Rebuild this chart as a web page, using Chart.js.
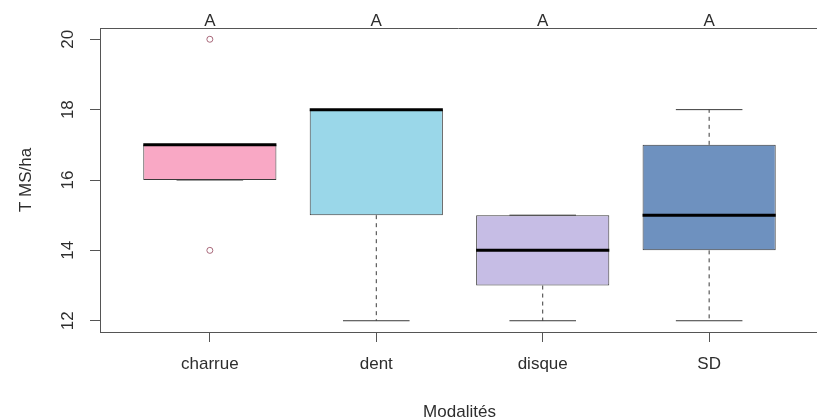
<!DOCTYPE html>
<html>
<head>
<meta charset="utf-8">
<script src="https://cdn.jsdelivr.net/npm/chart.js@4.4.1/dist/chart.umd.min.js"></script>
<style>
  html, body { margin: 0; padding: 0; background: #fff; overflow: hidden; }
  #wrap { width: 817px; height: 420px; }
</style>
</head>
<body>
<div id="wrap"><canvas id="c" width="817" height="420"></canvas></div>
<script>
// ---- data ----
const categories = ['charrue', 'dent', 'disque', 'SD'];
const positions = [1, 2, 3, 4];
const q1 = [16, 15, 13, 14];
const medians = [17, 18, 14, 15];
const q3 = [17, 18, 15, 17];
const whiskerLow = [16, 12, 12, 12];
const whiskerHigh = [17, 18, 15, 18];
const outliers = [[14, 20], [], [], []];
const letters = ['A', 'A', 'A', 'A'];
const yTicks = [12, 14, 16, 18, 20];
const boxColors = ['#F9A8C5', '#9AD7E9', '#C6BDE5', '#6E91BF'];

const BOX_HALF = 0.4;
const CAP_HALF = 0.2;
const FONT = "'Liberation Sans', Arial, sans-serif";
const TEXT = '#2e2e2e';
const AXIS = '#555555';

// segments built from the arrays
function segs(list) {
  const out = [];
  list.forEach(s => { out.push({x: s[0], y: s[1]}, {x: s[2], y: s[3]}, {x: s[2], y: null}); });
  return out;
}
const medianSegs = segs(positions.map((p, i) => [p - BOX_HALF, medians[i], p + BOX_HALF, medians[i]]));
const whiskerSegs = segs(positions.flatMap((p, i) => [
  [p, q1[i], p, whiskerLow[i]],
  [p, q3[i], p, whiskerHigh[i]]
]));
const capSegs = segs(positions.flatMap((p, i) => [
  [p - CAP_HALF, whiskerLow[i], p + CAP_HALF, whiskerLow[i]],
  [p - CAP_HALF, whiskerHigh[i], p + CAP_HALF, whiskerHigh[i]]
]));
const outlierPts = positions.flatMap((p, i) => outliers[i].map(v => ({x: p, y: v})));

const extras = {
  id: 'extras',
  afterDraw(chart) {
    const {ctx, chartArea, scales} = chart;
    const xs = scales.x, ys = scales.y;
    ctx.save();
    // top frame line
    ctx.strokeStyle = AXIS;
    ctx.lineWidth = 1;
    ctx.beginPath();
    ctx.moveTo(chartArea.left, chartArea.top + 0.5);
    ctx.lineTo(chartArea.right, chartArea.top + 0.5);
    ctx.stroke();

    ctx.fillStyle = TEXT;
    ctx.font = '17px ' + FONT;
    // rotated y tick labels
    yTicks.forEach(v => {
      const py = ys.getPixelForValue(v);
      ctx.save();
      ctx.translate(73, py);
      ctx.rotate(-Math.PI / 2);
      ctx.textAlign = 'center';
      ctx.textBaseline = 'alphabetic';
      ctx.fillText(String(v), 0, 0);
      ctx.restore();
    });
    // y title
    ctx.save();
    ctx.translate(31, (chartArea.top + chartArea.bottom) / 2);
    ctx.rotate(-Math.PI / 2);
    ctx.textAlign = 'center';
    ctx.textBaseline = 'alphabetic';
    ctx.fillText('T MS/ha', 0, 0);
    ctx.restore();
    // x title, centred on the plot region
    ctx.textAlign = 'center';
    ctx.textBaseline = 'alphabetic';
    ctx.fillText('Modalités', xs.getPixelForValue(2.5), 417);
    // letters above each box
    letters.forEach((t, i) => {
      ctx.fillText(t, xs.getPixelForValue(positions[i]), 25.5);
    });
    ctx.restore();
  }
};

new Chart(document.getElementById('c'), {
  type: 'bar',
  data: {
    datasets: [
      {
        type: 'bar',
        data: positions.map((p, i) => ({x: p, y: [q1[i], q3[i]]})),
        backgroundColor: boxColors,
        borderColor: '#3a3a3a',
        borderWidth: 1,
        borderSkipped: false,
        barPercentage: 1,
        categoryPercentage: 0.8,
        order: 3
      },
      {
        type: 'line',
        data: whiskerSegs,
        borderColor: '#3a3a3a',
        borderWidth: 1,
        borderDash: [4, 4],
        pointRadius: 0,
        spanGaps: false,
        order: 2
      },
      {
        type: 'line',
        data: capSegs,
        borderColor: '#3a3a3a',
        borderWidth: 1,
        pointRadius: 0,
        spanGaps: false,
        order: 2
      },
      {
        type: 'line',
        data: medianSegs,
        borderColor: '#000',
        borderWidth: 3,
        borderCapStyle: 'butt',
        pointRadius: 0,
        spanGaps: false,
        order: 0
      },
      {
        type: 'scatter',
        data: outlierPts,
        pointStyle: 'circle',
        pointRadius: 3,
        pointBorderWidth: 1,
        borderColor: '#A8687A',
        backgroundColor: 'rgba(0,0,0,0)',
        order: 1
      }
    ]
  },
  options: {
    responsive: false,
    animation: false,
    layout: { autoPadding: false, padding: { top: 28, right: 0, left: 0, bottom: 0 } },
    plugins: { legend: { display: false }, tooltip: { enabled: false } },
    scales: {
      x: {
        type: 'linear',
        offset: false,
        min: 0.34,
        max: 4.648,
        afterBuildTicks: s => { s.ticks = positions.map(v => ({value: v})); },
        afterFit: s => { s.height = 88; },
        grid: { offset: false, drawOnChartArea: false, drawTicks: true, tickLength: 10, color: AXIS, tickColor: AXIS },
        border: { display: true, color: AXIS, width: 1 },
        ticks: {
          autoSkip: false,
          maxRotation: 0,
          padding: 12,
          color: TEXT,
          font: { size: 17, family: FONT },
          callback: v => categories[positions.indexOf(v)] ?? ''
        }
      },
      y: {
        type: 'linear',
        min: 11.68,
        max: 20.32,
        afterBuildTicks: s => { s.ticks = yTicks.map(v => ({value: v})); },
        afterFit: s => { s.width = 100; },
        grid: { drawOnChartArea: false, drawTicks: true, tickLength: 10, color: AXIS, tickColor: AXIS },
        border: { display: true, color: AXIS, width: 1 },
        ticks: { display: false }
      }
    }
  },
  plugins: [extras]
});
</script>
</body>
</html>
